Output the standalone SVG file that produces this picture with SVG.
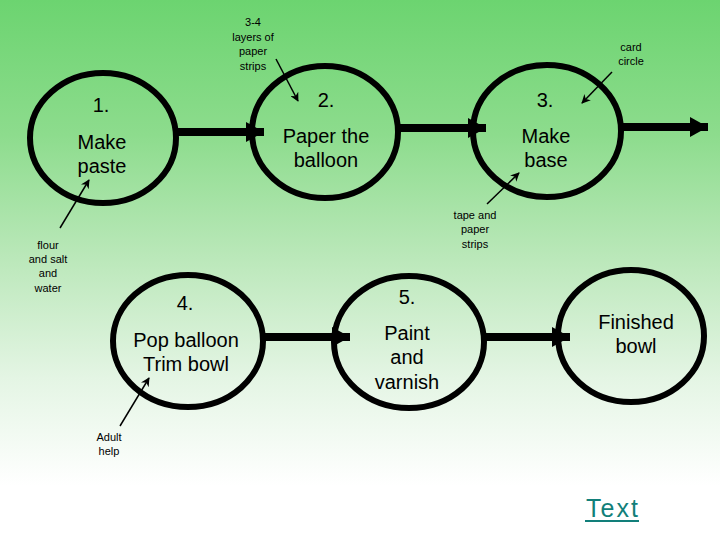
<svg xmlns="http://www.w3.org/2000/svg" width="720" height="540" viewBox="0 0 720 540">
<defs>
<linearGradient id="bg" x1="0" y1="0" x2="0" y2="1">
<stop offset="0" stop-color="#6cd470"/>
<stop offset="0.25" stop-color="#8ddc8d"/>
<stop offset="0.5" stop-color="#bfe9be"/>
<stop offset="0.7" stop-color="#e4f5e4"/>
<stop offset="0.9" stop-color="#ffffff"/>
<stop offset="1" stop-color="#ffffff"/>
</linearGradient>
<marker id="big" viewBox="0 0 20 20" refX="18" refY="10" markerWidth="20" markerHeight="20" markerUnits="userSpaceOnUse" orient="auto">
<path d="M0,0 L18,10 L0,20 Z" fill="#000"/>
</marker>
<marker id="small" viewBox="0 0 10 10" refX="9" refY="5" markerWidth="9" markerHeight="9" markerUnits="userSpaceOnUse" orient="auto">
<path d="M0,0 L10,5 L0,10 L3,5 Z" fill="#000"/>
</marker>
<style>
.node{fill:none;stroke:#000;stroke-width:6}
.big{font-family:"Liberation Sans",Arial,sans-serif;font-size:20px;fill:#000;text-anchor:middle}
.small{font-family:"Liberation Sans",Arial,sans-serif;font-size:11px;fill:#000;text-anchor:middle}
.flow{stroke:#000;stroke-width:8;fill:none;marker-end:url(#big)}
.ptr{stroke:#000;stroke-width:1.5;fill:none;marker-end:url(#small)}
.link{font-family:"Liberation Sans",Arial,sans-serif;font-size:25px;fill:#127f7a}
</style>
</defs>
<rect x="0" y="0" width="720" height="540" fill="url(#bg)"/>
<g id="connectors">
<line class="flow" x1="177" y1="132" x2="264" y2="132"/>
<line class="flow" x1="398" y1="128" x2="486" y2="128"/>
<line class="flow" x1="622" y1="127" x2="708" y2="127"/>
<line class="flow" x1="263" y1="337" x2="350" y2="337"/>
<line class="flow" x1="484" y1="337" x2="570" y2="337"/>
<line class="ptr" x1="276" y1="59" x2="298" y2="101"/>
<line class="ptr" x1="612" y1="72" x2="582" y2="103"/>
<line class="ptr" x1="60" y1="228" x2="89" y2="180"/>
<line class="ptr" x1="487" y1="204" x2="519" y2="173"/>
<line class="ptr" x1="120" y1="426" x2="149" y2="378"/>
</g>
<g id="n1">
<ellipse class="node" cx="103" cy="138" rx="73" ry="65"/>
<text class="big" x="101" y="112">1.</text>
<text class="big" x="102" y="149">Make</text>
<text class="big" x="102" y="173">paste</text>
</g>
<g id="n2">
<ellipse class="node" cx="325" cy="132" rx="73" ry="66"/>
<text class="big" x="326" y="107">2.</text>
<text class="big" x="326" y="143">Paper the</text>
<text class="big" x="326" y="167">balloon</text>
</g>
<g id="n3">
<ellipse class="node" cx="547" cy="131" rx="74" ry="66"/>
<text class="big" x="545" y="107">3.</text>
<text class="big" x="546" y="143">Make</text>
<text class="big" x="546" y="167">base</text>
</g>
<g id="n4">
<ellipse class="node" cx="188" cy="341" rx="75" ry="66"/>
<text class="big" x="185" y="310">4.</text>
<text class="big" x="186" y="347">Pop balloon</text>
<text class="big" x="186" y="371">Trim bowl</text>
</g>
<g id="n5">
<ellipse class="node" cx="409" cy="342" rx="75" ry="66"/>
<text class="big" x="407" y="304">5.</text>
<text class="big" x="407" y="340">Paint</text>
<text class="big" x="407" y="364">and</text>
<text class="big" x="407" y="389">varnish</text>
</g>
<g id="n6">
<ellipse class="node" cx="631" cy="336" rx="73" ry="66"/>
<text class="big" x="636" y="329">Finished</text>
<text class="big" x="636" y="353">bowl</text>
</g>
<g id="labels">
<text class="small" x="253" y="26">3-4</text>
<text class="small" x="253" y="41">layers of</text>
<text class="small" x="253" y="55">paper</text>
<text class="small" x="253" y="70">strips</text>
<text class="small" x="631" y="51">card</text>
<text class="small" x="631" y="65">circle</text>
<text class="small" x="475" y="219">tape and</text>
<text class="small" x="475" y="233">paper</text>
<text class="small" x="475" y="248">strips</text>
<text class="small" x="48" y="249">flour</text>
<text class="small" x="48" y="263">and salt</text>
<text class="small" x="48" y="277">and</text>
<text class="small" x="48" y="292">water</text>
<text class="small" x="109" y="441">Adult</text>
<text class="small" x="109" y="455">help</text>
</g>
<g id="link">
<text class="link" x="586" y="517" textLength="52" lengthAdjust="spacing">Text</text>
<line x1="585" y1="521" x2="639" y2="521" stroke="#127f7a" stroke-width="2"/>
</g>
</svg>
